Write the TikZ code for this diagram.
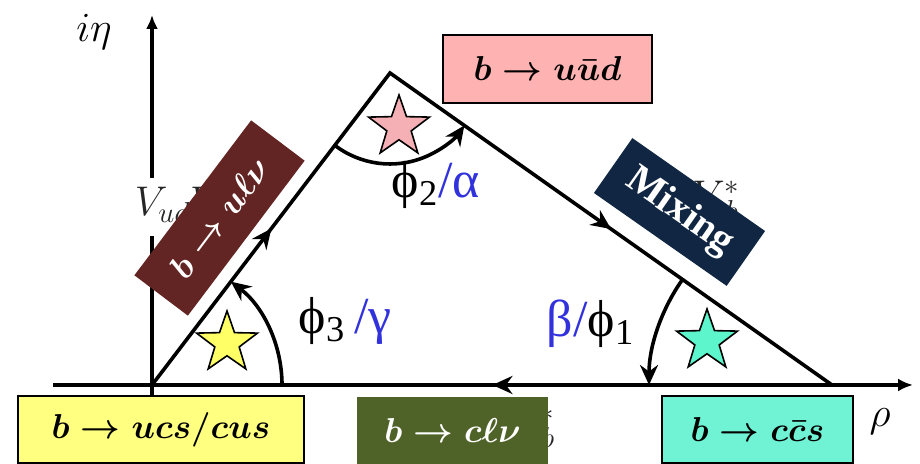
\documentclass[tikz,border=0pt]{standalone}
\usepackage{fontspec}
\setmainfont{Liberation Serif}
\usetikzlibrary{calc, arrows.meta, decorations.markings, shapes.geometric}
\definecolor{boxpink}{RGB}{255,178,178}
\definecolor{boxmaroon}{RGB}{99,37,35}
\definecolor{boxnavy}{RGB}{16,38,66}
\definecolor{boxolive}{RGB}{79,98,40}
\definecolor{boxcyan}{RGB}{112,243,212}
\definecolor{boxyellow}{RGB}{255,255,128}
\definecolor{starpink}{RGB}{244,176,180}
\definecolor{staryellow}{RGB}{255,255,102}
\definecolor{starcyan}{RGB}{92,245,204}
\definecolor{angblue}{RGB}{50,50,220}

\begin{document}
\begin{tikzpicture}[x=0.5pt, y=0.5pt, line width=1.8pt,
  arrowtri/.style={postaction={decorate, decoration={markings,
    mark=at position 0.122 with {\arrow{Stealth[length=10pt,width=9pt]}},
    mark=at position 0.411 with {\arrow{Stealth[length=10pt,width=9pt]}},
    mark=at position 0.789 with {\arrow{Stealth[length=10pt,width=9pt]}}}}},
  decay/.style={minimum width=95.5pt, minimum height=33.5pt, inner sep=0pt,
    line width=1pt, font=\fontsize{19}{22}\selectfont\boldmath},
  starry/.style={star, star points=5, star point ratio=2.5, draw=black,
    line width=0.8pt, minimum size=32pt, inner sep=0pt},
  anglab/.style={anchor=base west, inner sep=0pt, font=\fontsize{26}{28}\selectfont},
  ckm/.style={inner sep=0pt, font=\fontsize{21}{24}\selectfont, text=black!85}]
  \useasboundingbox (0,0) rectangle (920,464);
  % triangle vertices and axis ends
  \coordinate (O) at (152,79);
  \coordinate (A) at (390,391);
  \coordinate (B) at (832,79);
  \coordinate (xl) at (53,79);
  \coordinate (xr) at (913,79);
  \coordinate (yb) at (152,67);
  \coordinate (yt) at (152,449);
  % CKM products, mostly hidden behind the boxes
  \node[ckm, anchor=base east] (vtd) at (742,254) {$V_{td}V_{tb}^{*}$};
  \node[ckm, anchor=base east] (vcd) at (557,27) {$V_{cd}V_{cb}^{*}$};
  % axes
  \draw[-{Latex[length=7.5pt,width=6.5pt]}] (xl) -- (xr);
  \draw[-{Latex[length=7pt,width=6pt]}] (yb) -- (yt);
  \node[ckm, anchor=base west, fill=white, inner xsep=3pt, inner ysep=5pt] (vud) at (127,248) {$V_{ud}V_{ub}^{*}$};
  % unitarity triangle
  \draw[arrowtri, line join=miter] (O) -- (A) -- (B) -- cycle;
  % angle arcs
  \draw[-{Stealth[length=10pt,width=9pt]}] ($(A)+(232.67:91)$) arc (232.67:324.78:91);
  \draw[-{Stealth[length=10pt,width=9pt]}] ($(O)+(0:130)$) arc (0:52.67:130);
  \draw[-{Stealth[length=10pt,width=9pt]}] ($(B)+(144.78:183)$) arc (144.78:180:183);
  % stars
  \node[starry, fill=starpink] (s2) at (399,337) {};
  \node[starry, fill=staryellow] (s3) at (227,121) {};
  \node[starry, fill=starcyan] (s1) at (707,123) {};
  % decay modes
  \node[decay, draw, fill=boxpink, minimum width=104.5pt, minimum height=34pt] (uud) at (547.5,395) {$b\rightarrow u\bar{u}d$};
  \node[decay, fill=boxmaroon, text=white, rotate=53, minimum width=97pt] (ulv) at (219.5,246) {$b\rightarrow u\ell\nu$};
  \node[decay, fill=boxnavy, text=white, rotate=-35, minimum width=81pt, font=\fontsize{20}{22}\selectfont\bfseries] (mix) at (679.5,252) {Mixing};
  \node[decay, draw, fill=boxyellow, minimum width=143pt] (ucs) at (161,34) {$b\rightarrow ucs/cus$};
  \node[decay, fill=boxolive, text=white] (clv) at (452.5,33.5) {$b\rightarrow c\ell\nu$};
  \node[decay, draw, fill=boxcyan] (ccs) at (757.5,34) {$b\rightarrow c\bar{c}s$};
  % angle names
  \node[anglab] (phi2) at (390,266) {ϕ\textsubscript{2}\textcolor{angblue}{/α}};
  \node[anglab] (phi3) at (297,130) {ϕ\textsubscript{3}\,\textcolor{angblue}{/γ}};
  \node[anglab] (phi1) at (545,127) {\textcolor{angblue}{β/}ϕ\textsubscript{1}};
  % axis names
  \node[font=\fontsize{20}{22}\selectfont] (eta) at (94,432) {$i\eta$};
  \node[font=\fontsize{20}{22}\selectfont] (rho) at (880,42) {$\rho$};
\end{tikzpicture}
\end{document}
